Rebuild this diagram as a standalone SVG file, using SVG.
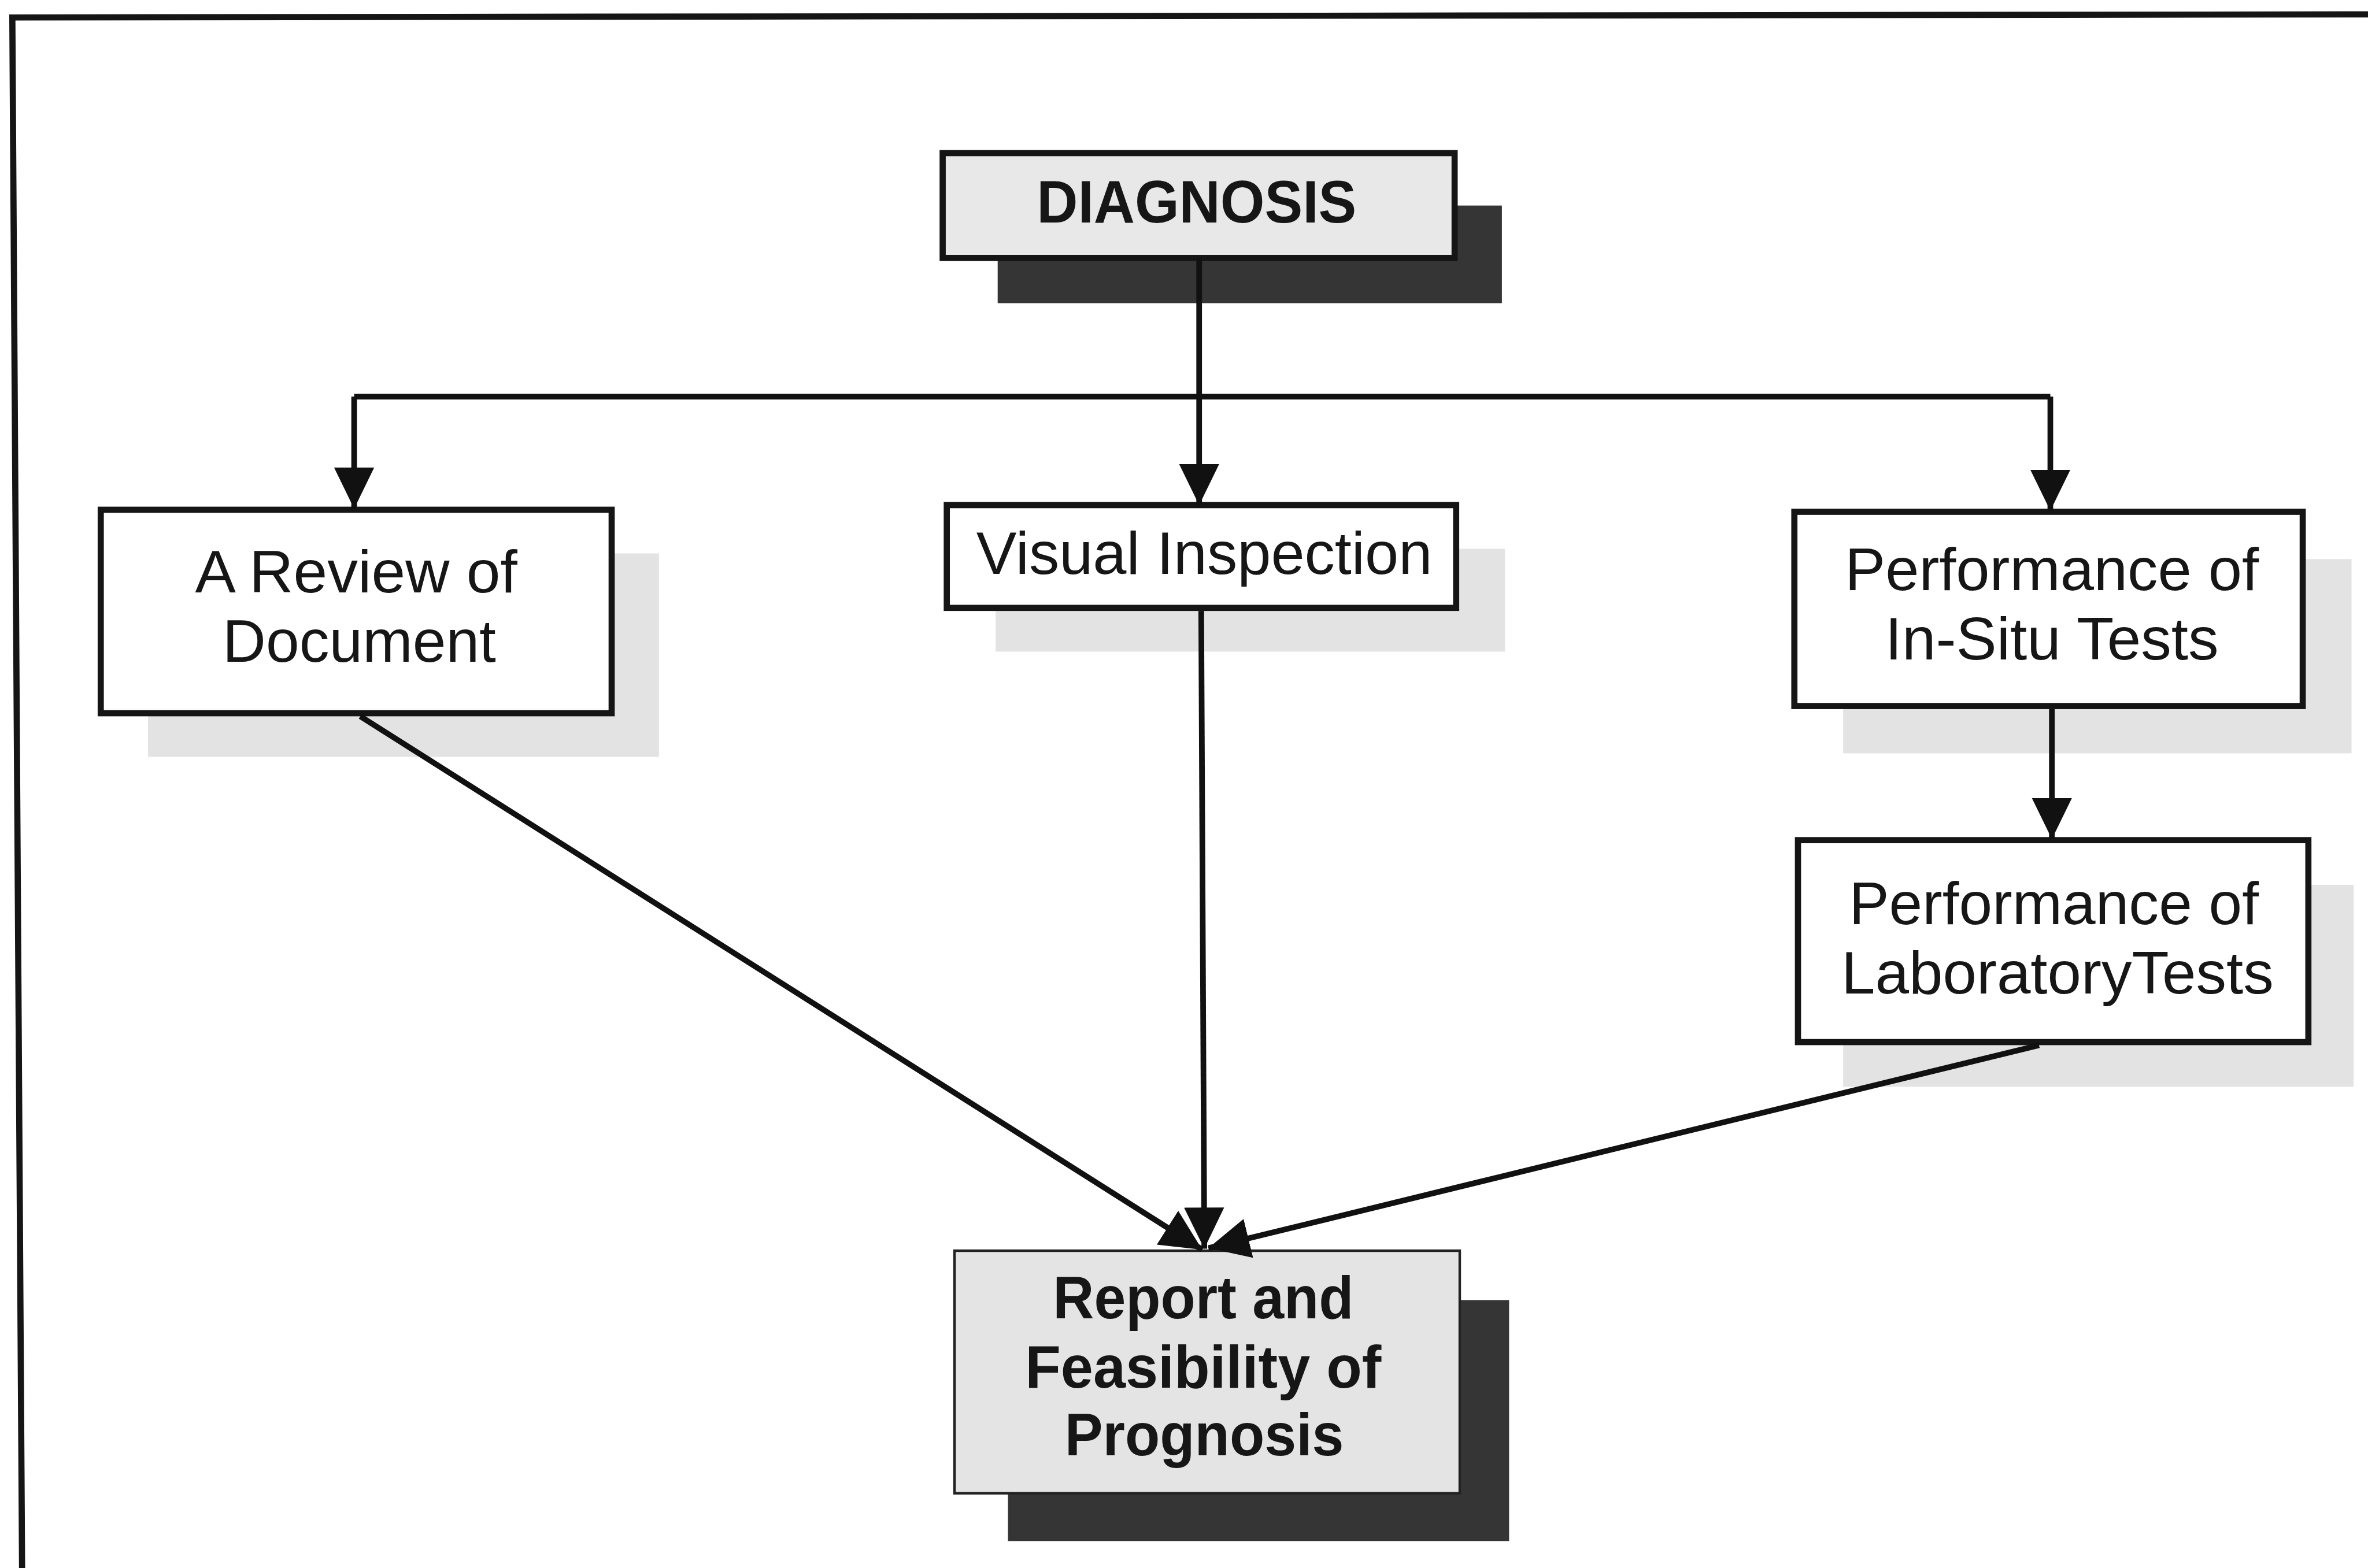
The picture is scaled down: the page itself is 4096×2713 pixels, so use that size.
<svg xmlns="http://www.w3.org/2000/svg" width="4096" height="2713" viewBox="0 0 4096 2713">
<style>
.frame{fill:none;stroke:#151515;stroke-width:12}
.box{fill:#ffffff;stroke:#151515;stroke-width:12}
.lshadow{fill:#e3e3e3}
.dshadow{fill:#353535}
.gbox{fill:#e8e8e8;stroke:#151515;stroke-width:12}
.rbox{fill:#e4e4e4;stroke:#222;stroke-width:5}
.conn{fill:none;stroke:#111;stroke-width:11}
.t{font-family:"Liberation Sans",Arial,Helvetica,sans-serif;font-size:116px;fill:#161616;text-anchor:middle}
.b{font-weight:bold}
</style>
<defs>
<marker id="arr" markerUnits="userSpaceOnUse" markerWidth="84" markerHeight="84" viewBox="0 0 84 84" refX="80" refY="42" orient="auto">
<path d="M0,3 L80,42 L0,81 Z" fill="#111"/>
</marker>
</defs>
<rect width="4096" height="2713" fill="#ffffff"/>
<g transform="scale(0.88908)">
<path class="frame" d="M43,3060 L24,34 L4620,28"/>

<g id="diagnosis">
<rect class="dshadow" x="1941" y="400" width="981" height="190"/>
<rect class="gbox" x="1834" y="298" width="996" height="204"/>
<text class="t b" x="2328" y="433" font-size="114" textLength="622" lengthAdjust="spacingAndGlyphs">DIAGNOSIS</text>
</g>

<g id="review">
<rect class="lshadow" x="288" y="1077" width="994" height="396"/>
<rect class="box" x="196" y="992" width="994" height="396"/>
<text class="t" x="693" y="1153" textLength="627" lengthAdjust="spacingAndGlyphs">A Review of</text>
<text class="t" x="699" y="1288" textLength="532" lengthAdjust="spacingAndGlyphs">Document</text>
</g>

<g id="visual">
<rect class="lshadow" x="1937" y="1068" width="991" height="200"/>
<rect class="box" x="1842" y="983" width="991" height="200"/>
<text class="t" x="2343" y="1117" textLength="887" lengthAdjust="spacingAndGlyphs">Visual Inspection</text>
</g>

<g id="insitu">
<rect class="lshadow" x="3586" y="1088" width="989" height="378"/>
<rect class="box" x="3491" y="996" width="989" height="378"/>
<text class="t" x="3992" y="1148" textLength="805" lengthAdjust="spacingAndGlyphs">Performance of</text>
<text class="t" x="3992" y="1283" textLength="649" lengthAdjust="spacingAndGlyphs">In-Situ Tests</text>
</g>

<g id="laboratory">
<rect class="lshadow" x="3586" y="1722" width="993" height="393"/>
<rect class="box" x="3498" y="1635" width="993" height="393"/>
<text class="t" x="3996" y="1798" textLength="797" lengthAdjust="spacingAndGlyphs">Performance of</text>
<text class="t" x="4003" y="1933" textLength="841" lengthAdjust="spacingAndGlyphs">LaboratoryTests</text>
</g>

<g id="report">
<rect class="dshadow" x="1961" y="2530" width="975" height="469"/>
<rect class="rbox" x="1857" y="2434" width="983" height="472"/>
<text class="t b" x="2341" y="2566" font-size="106" textLength="585" lengthAdjust="spacingAndGlyphs">Report and</text>
<text class="t b" x="2341" y="2700" font-size="106" textLength="693" lengthAdjust="spacingAndGlyphs">Feasibility of</text>
<text class="t b" x="2343" y="2832" font-size="106" textLength="543" lengthAdjust="spacingAndGlyphs">Prognosis</text>
</g>

<g id="connectors">
<path class="conn" d="M2333,502 V983" marker-end="url(#arr)"/>
<path class="conn" d="M689,772 H3989"/>
<path class="conn" d="M689,772 V990" marker-end="url(#arr)"/>
<path class="conn" d="M3989,772 V994" marker-end="url(#arr)"/>
<path class="conn" d="M3992,1380 V1633" marker-end="url(#arr)"/>
<path class="conn" d="M701,1394 L2339,2432" marker-end="url(#arr)"/>
<path class="conn" d="M2337,1189 L2343,2430" marker-end="url(#arr)"/>
<path class="conn" d="M3967,2034 L2351,2429" marker-end="url(#arr)"/>
</g>
</g>
</svg>
